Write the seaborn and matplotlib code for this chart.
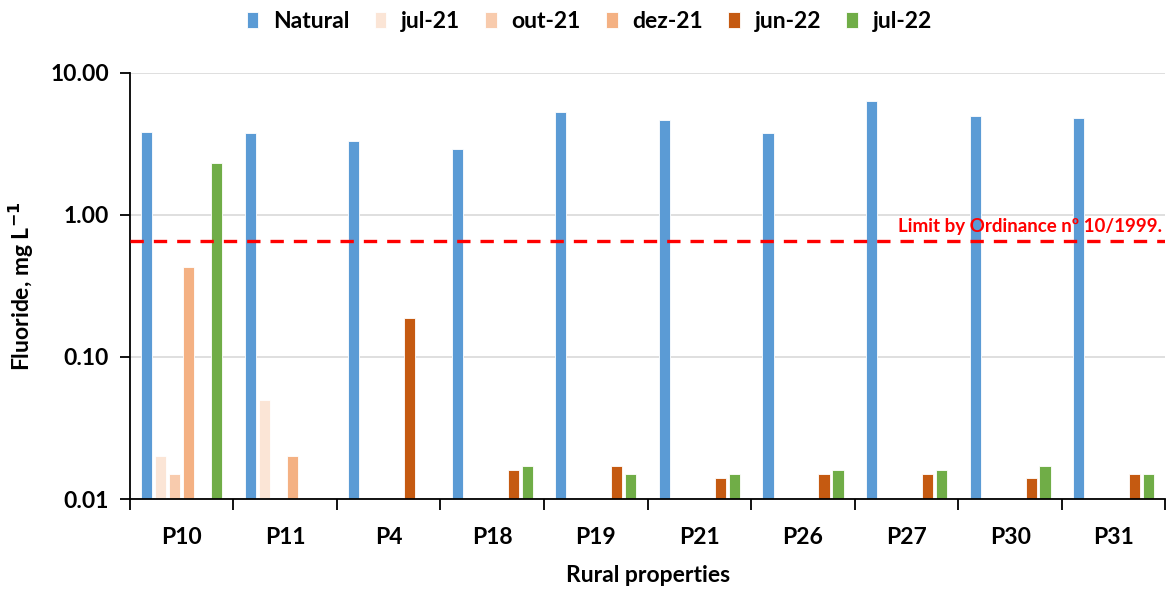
import matplotlib
matplotlib.use("Agg")
import matplotlib.pyplot as plt
import seaborn as sns
import numpy as np
import pandas as pd
from matplotlib.transforms import blended_transform_factory

properties = ["P10", "P11", "P4", "P18", "P19", "P21", "P26", "P27", "P30", "P31"]
series = ["Natural", "jul-21", "out-21", "dez-21", "jun-22", "jul-22"]
colors = ["#5B9BD5", "#FBE5D6", "#F8CBAD", "#F4B183", "#C55A11", "#70AD47"]

natural = [3.85, 3.80, 3.30, 2.92, 5.30, 4.67, 3.80, 6.35, 4.98, 4.80]
jul21 = [0.020, 0.050, np.nan, np.nan, np.nan, np.nan, np.nan, np.nan, np.nan, np.nan]
out21 = [0.015, np.nan, np.nan, np.nan, np.nan, np.nan, np.nan, np.nan, np.nan, np.nan]
dez21 = [0.43, 0.020, np.nan, np.nan, np.nan, np.nan, np.nan, np.nan, np.nan, np.nan]
jun22 = [np.nan, np.nan, 0.188, 0.016, 0.017, 0.014, 0.015, 0.015, 0.014, 0.015]
jul22 = [2.33, np.nan, np.nan, 0.017, 0.015, 0.015, 0.016, 0.016, 0.017, 0.015]
limit_value = 0.65
limit_label = "Limit by Ordinance nº 10/1999."

values = [natural, jul21, out21, dez21, jun22, jul22]
rows = []
for s, vals in zip(series, values):
    for p, v in zip(properties, vals):
        if not np.isnan(v):
            rows.append({"property": p, "series": s, "value": v})
df = pd.DataFrame(rows)

sns.set_theme(style="white")
plt.rcParams["font.family"] = ["Lato", "DejaVu Sans"]
plt.rcParams["font.weight"] = "bold"
plt.rcParams["text.color"] = "black"
plt.rcParams["axes.labelcolor"] = "black"
plt.rcParams["xtick.color"] = "black"
plt.rcParams["ytick.color"] = "black"

fs = 16.5

fig = plt.figure(figsize=(11.69, 5.92), dpi=100)
ax = fig.add_axes([0.111, 0.157, 0.886, 0.72])

sns.barplot(data=df, x="property", y="value", hue="series",
            order=properties, hue_order=series, palette=colors,
            width=0.81, gap=0.2, ax=ax, errorbar=None,
            edgecolor="white", linewidth=0.6, saturation=1)

ax.set_yscale("log")
ax.set_ylim(0.01, 10)
ax.set_xlim(-0.5, len(properties) - 0.5)
ax.set_yticks([0.01, 0.1, 1, 10])
ax.set_yticklabels(["0.01", "0.10", "1.00", "10.00"])
ax.yaxis.set_minor_locator(matplotlib.ticker.NullLocator())
ax.grid(axis="y", color="#D9D9D9", linewidth=1.2)
ax.set_axisbelow(True)

ax.set_xticks(np.arange(len(properties)))
ax.set_xticklabels(properties)
ax.set_xticks(np.arange(len(properties) + 1) - 0.5, minor=True)
ax.tick_params(axis="x", which="major", length=0, pad=20, labelsize=fs)
ax.tick_params(axis="x", which="minor", length=8, width=1.3, color="black", direction="out", bottom=True)
ax.tick_params(axis="y", which="major", length=7, width=1.3, color="black", direction="out",
               left=True, labelsize=fs, pad=8)

for side in ["top", "right"]:
    ax.spines[side].set_visible(False)
for side in ["left", "bottom"]:
    ax.spines[side].set_color("black")
    ax.spines[side].set_linewidth(1.3)

ax.axhline(limit_value, color="#FF0000", linestyle=(0, (4, 3)), linewidth=2.4, zorder=5)
trans = blended_transform_factory(ax.transAxes, ax.transData)
ax.text(0.997, limit_value * 1.27, limit_label, transform=trans, ha="right", va="center",
        color="#FF0000", fontsize=13.5, fontweight="bold", zorder=6)

ax.set_xlabel("Rural properties", fontsize=fs, fontweight="bold", labelpad=12)
ax.set_ylabel("Fluoride, mg L$^{\\mathbf{-1}}$", fontsize=fs, fontweight="bold", labelpad=10)

handles, labels = ax.get_legend_handles_labels()
ax.get_legend().remove()
fig.legend(handles, labels, loc="center left", bbox_to_anchor=(0.211, 0.963), ncol=6,
           frameon=False, fontsize=fs, handlelength=0.5, handleheight=0.7,
           handletextpad=0.65, columnspacing=1.1, borderaxespad=0, borderpad=0)

fig.savefig("out.png", dpi=100)
